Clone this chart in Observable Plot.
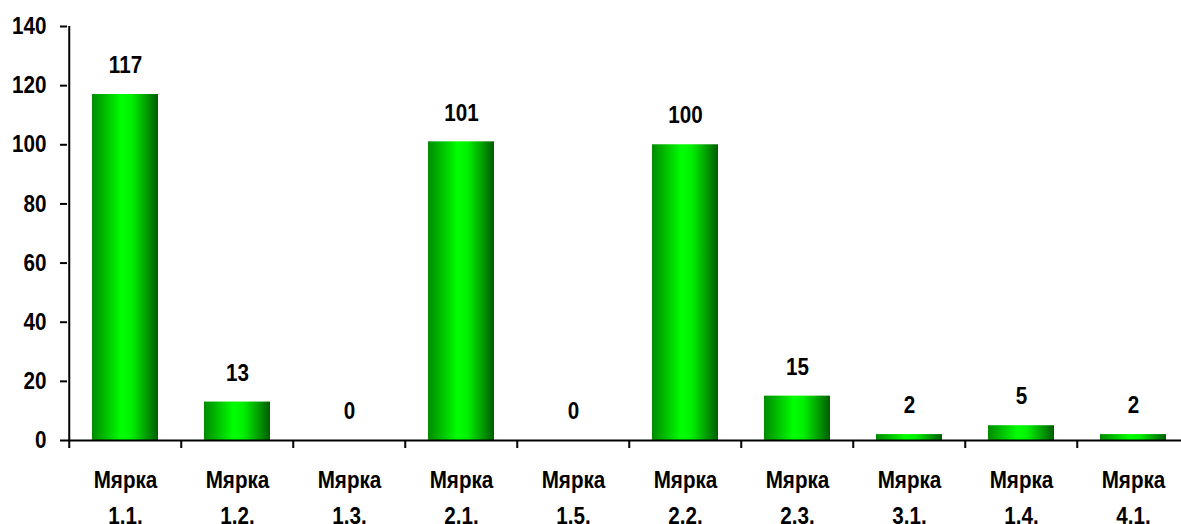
<!DOCTYPE html>
<html>
<head>
<meta charset="utf-8">
<script src="https://cdn.jsdelivr.net/npm/d3@7"></script>
<script src="https://cdn.jsdelivr.net/npm/@observablehq/plot@0.6"></script>
<style>
  html, body { margin: 0; padding: 0; background: #fff; overflow: hidden; }
</style>
</head>
<body>
<div id="chart"></div>
<script>
const categories = ["Мярка\n1.1.", "Мярка\n1.2.", "Мярка\n1.3.", "Мярка\n2.1.", "Мярка\n1.5.", "Мярка\n2.2.", "Мярка\n2.3.", "Мярка\n3.1.", "Мярка\n1.4.", "Мярка\n4.1."];
const values = [117, 13, 0, 101, 0, 100, 15, 2, 5, 2];
const yTicks = [0, 20, 40, 60, 80, 100, 120, 140];

const W = 1181, H = 524, ML = 67, MT = 26, MB = 84;
const step = 112.5;
const data = categories.map((c, i) => ({cat: c, value: values[i]}));
const font = "'Liberation Sans', Arial, sans-serif";
const fs = 24;
const condense = 0.86;

const plot = Plot.plot({
  width: W, height: H,
  marginLeft: ML, marginTop: MT, marginBottom: MB, marginRight: 0,
  style: {fontFamily: font, fontWeight: "bold", fontSize: fs + "px", color: "#000", background: "#fff", overflow: "visible"},
  x: {domain: categories, range: [ML, ML + step * categories.length], paddingInner: 0.41, paddingOuter: 0.205, align: 0.5, label: null},
  y: {domain: [0, 140], label: null},
  marks: [
    Plot.barY(data, {x: "cat", y: "value", fill: "url(#barGrad)"}),
    Plot.text(data, {x: "cat", y: "value", text: d => String(d.value), dy: -29, fontSize: fs, fontWeight: "bold", fill: "#000"}),
    Plot.ruleY([0], {stroke: "#000", strokeWidth: 2}),
    Plot.ruleX([categories[0]], {x: d => d, y1: 0, y2: 140, dx: -step / 2, stroke: "#000", strokeWidth: 2}),
    Plot.axisY({ticks: yTicks, tickSize: 7, tickPadding: 14, strokeWidth: 2, fontSize: fs, fontWeight: "bold", label: null}),
    Plot.axisX({tickSize: 0, tickPadding: 22, lineHeight: 1.5, fontSize: fs, fontWeight: "bold", label: null}),
    Plot.axisX({tickSize: 8, tickFormat: () => "", dx: -step / 2, strokeWidth: 2, label: null})
  ]
});

const svg = d3.select(plot);
const defs = svg.insert("defs", ":first-child");
const g = defs.append("linearGradient").attr("id", "barGrad")
  .attr("x1", "0%").attr("x2", "100%").attr("y1", "0%").attr("y2", "0%");
[["0%", "#008c00"], ["12%", "#00a800"], ["45%", "#00ff00"], ["60%", "#00f000"], ["100%", "#005c00"]]
  .forEach(([o, c]) => g.append("stop").attr("offset", o).attr("stop-color", c));

// condense text horizontally (reference uses a narrow bold face)
svg.selectAll("text").each(function() {
  const t = d3.select(this);
  const tr = t.attr("transform") || "";
  const x = t.attr("x");
  if (x != null) t.attr("x", +x / condense);
  t.attr("transform", (tr + ` scale(${condense},1)`).trim());
  t.selectAll("tspan").each(function() {
    const ts = d3.select(this);
    const tx = ts.attr("x");
    if (tx != null) ts.attr("x", +tx / condense);
  });
});

document.getElementById("chart").appendChild(plot);
</script>
</body>
</html>
